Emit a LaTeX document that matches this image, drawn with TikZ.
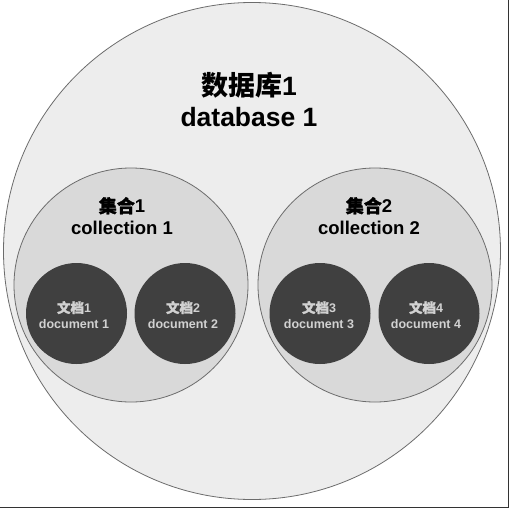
\documentclass[tikz,border=0pt]{standalone}
\usepackage{fontspec}
\setmainfont{Liberation Sans}
\newfontfamily\cjk{Noto Sans CJK SC}
\newfontfamily\cjkb{Noto Sans CJK SC}[FakeBold=1.5]
\begin{document}
\begin{tikzpicture}[x=1pt,y=-1pt,
  dbcircle/.style={circle,draw=gray!85!black,line width=0.8pt,fill=black!7,minimum size=497pt,inner sep=0pt},
  colcircle/.style={circle,draw=gray!85!black,line width=0.8pt,fill=black!15,minimum size=234pt,inner sep=0pt},
  doccircle/.style={circle,draw=none,fill=black!75,minimum size=101pt,inner sep=0pt},
  dblabel/.style={align=center,font=\bfseries\fontsize{26.5}{31}\selectfont,text=black},
  collabel/.style={align=center,font=\bfseries\fontsize{18.5}{22}\selectfont,text=black},
  doclabel/.style={align=center,font=\bfseries\fontsize{12.5}{16}\selectfont,text=black!18}
]
\useasboundingbox (0,0) rectangle (512,509);
\fill[white] (0,0) rectangle (512,509);
\node[dbcircle] (db) at (252,251) {};
\node[colcircle] (c1) at (131,285) {};
\node[colcircle] (c2) at (375,285) {};
\node[doccircle] (d1) at (76.5,313.5) {};
\node[doccircle] (d2) at (185,313.5) {};
\node[doccircle] (d3) at (320,313.5) {};
\node[doccircle] (d4) at (429,313.5) {};
\node[dblabel] (dbt) at (249,99) {{\cjk\fontsize{27}{31}\selectfont 数据库}1\\database 1};
\node[collabel] (c1t) at (122,216) {{\cjkb\fontsize{18}{22}\selectfont 集合}1\\collection 1};
\node[collabel] (c2t) at (369,216) {{\cjkb\fontsize{18}{22}\selectfont 集合}2\\collection 2};
\node[doclabel] (d1t) at (74,315) {{\cjkb\fontsize{13.5}{16}\selectfont 文档}1\\document 1};
\node[doclabel] (d2t) at (183,315) {{\cjkb\fontsize{13.5}{16}\selectfont 文档}2\\document 2};
\node[doclabel] (d3t) at (319,315) {{\cjkb\fontsize{13.5}{16}\selectfont 文档}3\\document 3};
\node[doclabel] (d4t) at (426,315) {{\cjkb\fontsize{13.5}{16}\selectfont 文档}4\\document 4};
\coordinate (fr1) at (508,0);
\coordinate (fr2) at (508,507);
\coordinate (fr3) at (0,507);
\draw[black!80,line width=1pt] (fr1) -- (fr2) -- (fr3);
\end{tikzpicture}
\end{document}
